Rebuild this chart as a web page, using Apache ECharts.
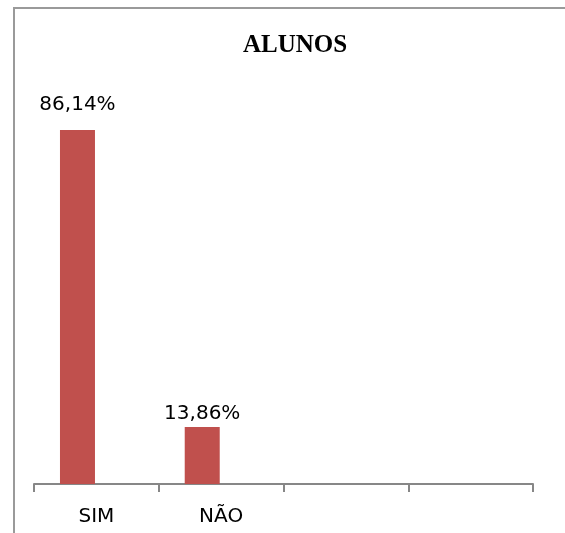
<!DOCTYPE html>
<html>
<head>
<meta charset="utf-8">
<script src="https://cdn.jsdelivr.net/npm/echarts@6/dist/echarts.min.js"></script>
<style>
  html, body { margin: 0; padding: 0; background: #fff; }
  #chart { width: 565px; height: 533px; }
</style>
</head>
<body>
<div id="chart"></div>
<script>
// dados do grafico
var categorias = ['SIM', 'NÃO', '', ''];
var valores = [86.14, 13.86, null, null];
var vazio = [null, null, null, null];   // serie fantasma, so para deslocar as barras como no Excel

var chart = echarts.init(document.getElementById('chart'));

// no original o rotulo da primeira barra fica mais alto
var dadosBarra = valores.map(function (v, i) {
    return i === 0 ? { value: v, label: { distance: 15 } } : v;
});

var option = {
    animation: false,
    title: {
        text: 'ALUNOS',
        left: 238,
        top: 28,
        textStyle: {
            fontFamily: 'Liberation Serif',
            fontWeight: 'bold',
            fontSize: 25,
            color: '#000'
        }
    },
    // moldura do grafico
    graphic: [{
        type: 'rect',
        shape: { x: 14, y: 8, width: 700, height: 700 },
        style: { fill: 'none', stroke: '#9a9a9a', lineWidth: 2 },
        silent: true
    }],
    grid: {
        left: 34,
        right: 32,
        top: 73,
        bottom: 49
    },
    xAxis: {
        type: 'category',
        data: categorias,
        axisLine: { lineStyle: { color: '#878787', width: 2 } },
        axisTick: { show: true, interval: 0, length: 8, lineStyle: { color: '#878787', width: 2 } },
        axisLabel: {
            interval: 0,
            margin: 23,
            fontFamily: 'DejaVu Sans',
            fontSize: 20,
            color: '#000'
        }
    },
    yAxis: {
        type: 'value',
        min: 0,
        max: 100,
        show: false,
        splitLine: { show: false }
    },
    series: [
        {
            type: 'bar',
            data: dadosBarra,
            barWidth: 35,
            barGap: '8%',
            itemStyle: { color: '#c0504d' },
            label: {
                show: true,
                position: 'top',
                distance: 3,
                fontFamily: 'DejaVu Sans',
                fontSize: 20,
                color: '#000',
                formatter: function (p) {
                    return p.value.toFixed(2).replace('.', ',') + '%';
                }
            }
        },
        {
            type: 'bar',
            data: vazio,
            barWidth: 35
        }
    ]
};

chart.setOption(option);
</script>
</body>
</html>
